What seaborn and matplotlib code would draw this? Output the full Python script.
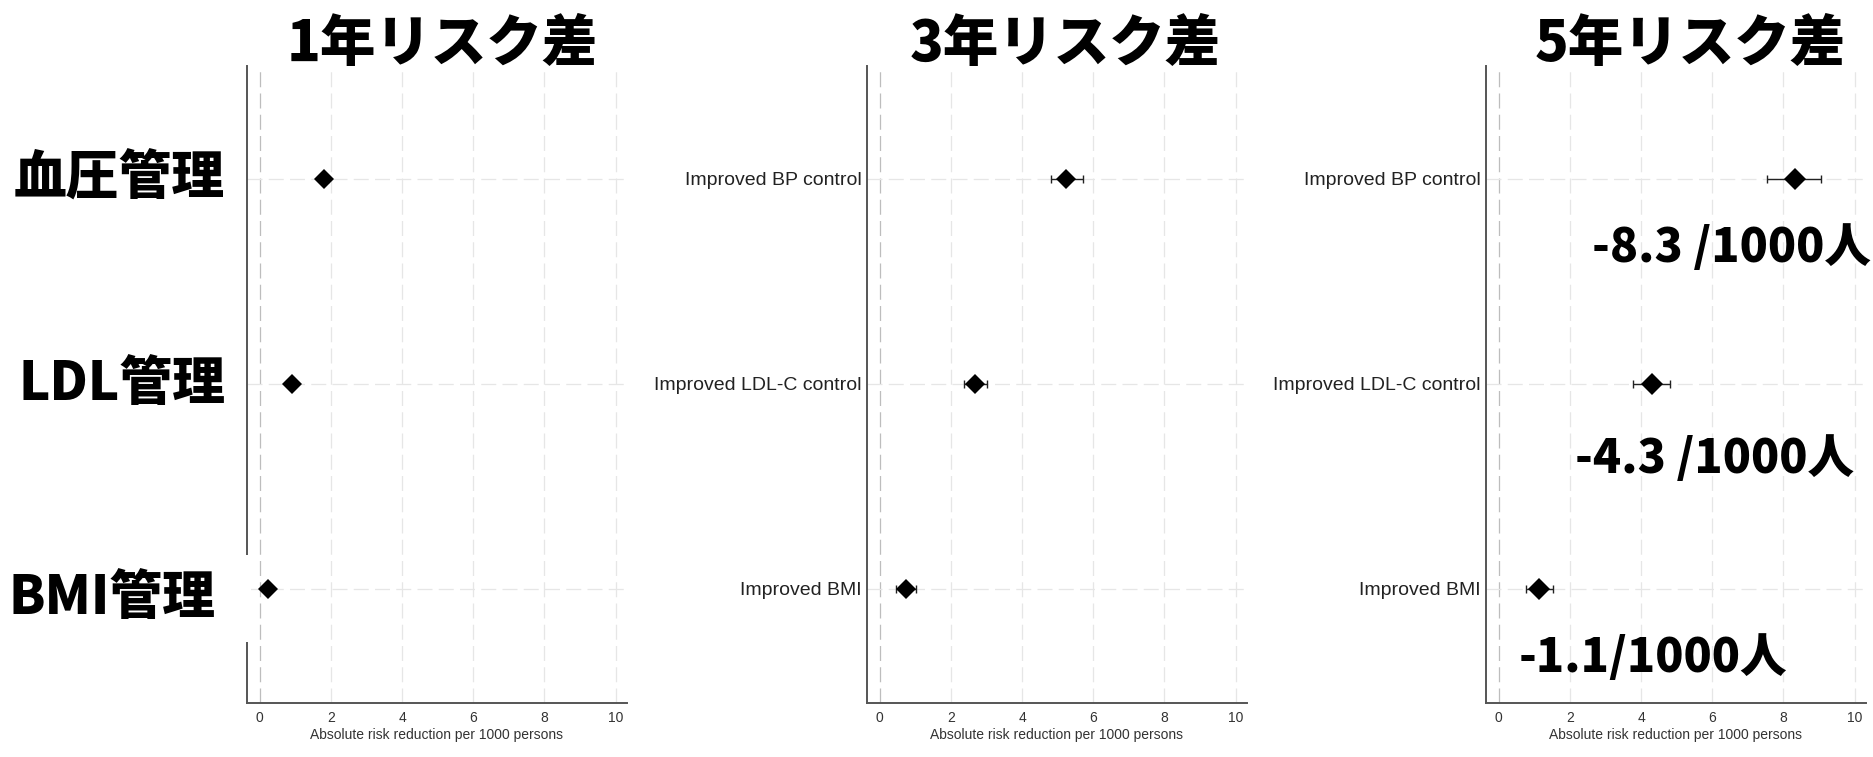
import numpy as np
import pandas as pd
import matplotlib
matplotlib.use("Agg")
import matplotlib.pyplot as plt
from matplotlib.patches import Rectangle
from matplotlib.transforms import blended_transform_factory
import seaborn as sns

# ---- data -------------------------------------------------------------
outcomes = ["Improved BP control", "Improved LDL-C control", "Improved BMI"]
row_labels_jp = ["血圧管理", "LDL管理", "BMI管理"]
panel_titles = ["1年リスク差", "3年リスク差", "5年リスク差"]

est_1y = [1.81, 0.90, 0.23]
lo_1y = [1.70, 0.81, 0.17]
hi_1y = [1.92, 0.99, 0.29]

est_3y = [5.24, 2.68, 0.73]
lo_3y = [4.80, 2.36, 0.45]
hi_3y = [5.70, 3.01, 1.01]

est_5y = [8.32, 4.31, 1.14]
lo_5y = [7.55, 3.77, 0.76]
hi_5y = [9.05, 4.81, 1.52]

# separator used in the 5-year value annotations
note_sep_5y = [" /", " /", "/"]

x_ticks = [0, 2, 4, 6, 8, 10]
x_label = "Absolute risk reduction per 1000 persons"

# ---- style ------------------------------------------------------------
sns.set_style("white")
plt.rcParams["font.family"] = ["Liberation Sans", "DejaVu Sans"]
JP = ["Noto Sans CJK JP", "DejaVu Sans"]

W, H = 1874, 757
fig = plt.figure(figsize=(W / 100, H / 100), dpi=100)
fig.patch.set_facecolor("white")

ax_left_px = [247, 867, 1486]
ax_w_px = 380
ax_bottom = 1 - 703 / H
ax_height = (703 - 66) / H

panels = [
    (est_1y, lo_1y, hi_1y, 10),
    (est_3y, lo_3y, hi_3y, 10),
    (est_5y, lo_5y, hi_5y, 11),
]
title_x = [0.513, 0.521, 0.537]

axes = []
for i, (est, lo, hi, msize) in enumerate(panels):
    ax = fig.add_axes([ax_left_px[i] / W, ax_bottom, ax_w_px / W, ax_height])
    axes.append(ax)
    df = pd.DataFrame({"outcome": outcomes, "est": est, "lo": lo, "hi": hi})

    # reference grid: dashed verticals at ticks, dashed horizontals at rows
    for xv in x_ticks:
        ax.axvline(xv, color="#bdbdbd" if xv == 0 else "#e6e6e6",
                   lw=0.9, ls=(0, (12, 5)), zorder=0)
    for yi in range(len(outcomes)):
        ax.axhline(yi, color="#e6e6e6", lw=0.9, ls=(0, (12, 5)), zorder=0)

    # confidence intervals
    ypos = np.arange(len(outcomes))
    ax.errorbar(df["est"], ypos,
                xerr=[df["est"] - df["lo"], df["hi"] - df["est"]],
                fmt="none", ecolor="#222222", elinewidth=1.0,
                capsize=3, capthick=1.0, zorder=2)

    # point estimates
    sns.pointplot(data=df, x="est", y="outcome", order=outcomes,
                  errorbar=None, markers="D", linestyles="none",
                  color="black", markersize=msize, markeredgewidth=0,
                  ax=ax, zorder=3)

    ax.set_xlim(-0.36, 10.32)
    ax.set_ylim(2.556, -0.55)
    ax.set_xticks(x_ticks)
    ax.set_xticklabels([str(t) for t in x_ticks], fontsize=10, color="#333333")
    ax.tick_params(axis="x", length=4, width=1.2, color="#555555", pad=2)
    ax.tick_params(axis="y", length=0, pad=4)
    ax.set_xlabel(x_label, fontsize=10, color="#333333", labelpad=2)
    ax.set_ylabel("")
    if i == 0:
        ax.set_yticklabels([])
    else:
        ax.set_yticks(ypos)
        ax.set_yticklabels(outcomes, fontsize=14, color="#222222")

    for side in ("top", "right"):
        ax.spines[side].set_visible(False)
    for side in ("left", "bottom"):
        ax.spines[side].set_color("#555555")
        ax.spines[side].set_linewidth(1.4)

    ax.text(title_x[i], 1.034, panel_titles[i], transform=ax.transAxes,
            ha="center", va="center", fontsize=40, fontweight="heavy",
            family=JP, color="black")

# Japanese row labels beside the first panel (the last one sits on a
# white backing that interrupts the axis line)
ax1 = axes[0]
tr = blended_transform_factory(ax1.transAxes, ax1.transData)
fig.add_artist(Rectangle((0, 1 - 642 / H), 251 / W, 87 / H,
                         transform=fig.transFigure, facecolor="white",
                         edgecolor="none", zorder=2))
jp_x = [-0.058, -0.058, -0.082]
jp_dy = [0.0, 0.0, 0.045]
for k, lab in enumerate(row_labels_jp):
    fig.text(jp_x[k], k + jp_dy[k], lab, transform=tr, ha="right", va="center",
             fontsize=38, fontweight="heavy", family=JP, color="black",
             zorder=4)

# value annotations in the 5-year panel
ax3 = axes[2]
note_x = [2.63, 2.15, 0.57]
note_dy = [0.34, 0.37, 0.34]
for k, v in enumerate(est_5y):
    ax3.text(note_x[k], k + note_dy[k], f"-{v:.1f}{note_sep_5y[k]}1000人",
             ha="left", va="center", fontsize=33.5, fontweight="heavy",
             family=JP, color="black", clip_on=False, zorder=5)

fig.savefig("out.png", dpi=100, facecolor="white")
